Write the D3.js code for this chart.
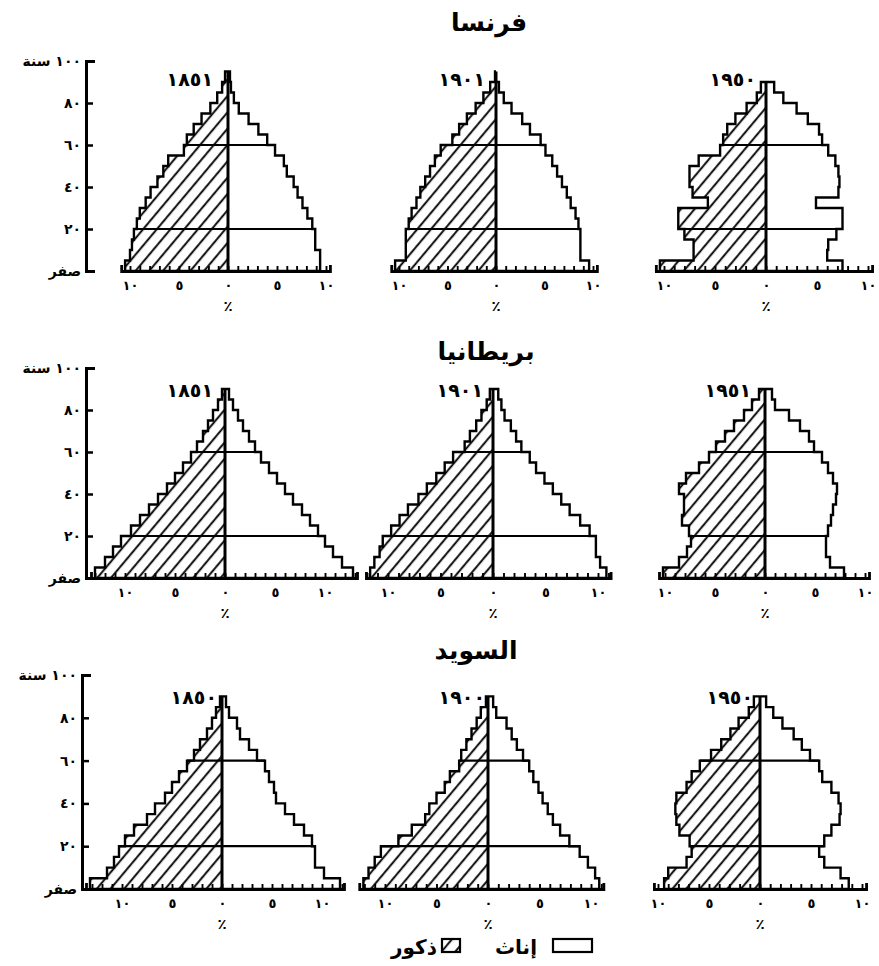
<!DOCTYPE html>
<html>
<head>
<meta charset="utf-8">
<script src="https://cdn.jsdelivr.net/npm/d3@7"></script>
<style>
  body { margin: 0; background: #fff; }
  svg { display: block; }
  text { font-family: "DejaVu Sans", sans-serif; fill: #000; }
</style>
</head>
<body>
<script>
// age groups (start of each 5-year band)
var ageStarts = [0, 5, 10, 15, 20, 25, 30, 35, 40, 45, 50, 55, 60, 65, 70, 75, 80, 85, 90]

var countries = ['فرنسا', 'بريطانيا', 'السويد']
var years = [[1851, 1901, 1950], [1851, 1901, 1951], [1850, 1900, 1950]]

var xTickLabels = [-10, -5, 0, 5, 10]
var yTickValues = [0, 20, 40, 60, 80, 100]
var yTickLabels = ['صفر', '٢٠', '٤٠', '٦٠', '٨٠', '١٠٠ سنة']
var refAges = [20, 60]

// percent of population in each band
var franceMale1851 = [10.5, 10.0, 9.8, 9.6, 9.3, 9.0, 8.4, 7.9, 7.2, 6.6, 6.1, 4.5, 4.2, 3.5, 2.7, 1.8, 1.1, 0.6, 0.3]
var franceFemale1851 = [9.4, 9.4, 8.9, 8.9, 8.6, 8.1, 7.6, 7.1, 6.7, 6.0, 5.7, 4.8, 4.0, 3.1, 2.1, 1.1, 0.6, 0.3, 0.2]
var franceMale1901 = [10.4, 9.3, 9.3, 9.3, 9.0, 8.7, 8.2, 7.8, 7.3, 6.8, 6.3, 5.7, 4.5, 3.8, 3.0, 2.1, 1.3, 0.6, 0.1]
var franceFemale1901 = [9.6, 8.7, 8.7, 8.7, 8.5, 8.2, 7.7, 7.3, 6.8, 6.3, 5.8, 5.1, 4.6, 3.5, 2.7, 1.6, 0.8, 0.3, 0]
var franceMale1950 = [10.4, 7.1, 7.1, 8.0, 8.6, 8.6, 5.7, 7.2, 7.5, 7.5, 6.6, 4.5, 4.2, 3.8, 3.0, 1.9, 0.9, 0.5, 0]
var franceFemale1950 = [7.5, 6.0, 6.1, 6.9, 7.5, 7.5, 4.9, 7.1, 7.2, 7.1, 6.8, 6.1, 5.5, 5.2, 4.1, 3.0, 1.7, 0.8, 0]

var britainMale1851 = [13.0, 12.0, 11.2, 10.4, 9.4, 8.5, 7.6, 6.7, 5.8, 5.0, 4.2, 3.4, 2.8, 2.2, 1.7, 1.2, 0.7, 0.3, 0]
var britainFemale1851 = [12.8, 11.7, 10.8, 10.0, 9.3, 8.5, 7.7, 6.8, 6.0, 5.2, 4.4, 3.6, 3.0, 2.4, 1.8, 1.3, 0.8, 0.4, 0]
var britainMale1901 = [11.7, 11.3, 10.8, 10.5, 9.7, 8.9, 8.1, 7.1, 6.3, 5.4, 4.6, 3.8, 2.7, 2.2, 1.6, 1.1, 0.6, 0.3, 0]
var britainFemale1901 = [10.8, 10.2, 9.8, 9.8, 9.2, 8.3, 7.3, 6.5, 5.7, 4.9, 4.1, 3.5, 2.7, 2.2, 1.7, 1.1, 0.8, 0.5, 0]
var britainMale1951 = [10.2, 8.6, 7.8, 7.4, 7.6, 8.3, 8.1, 8.1, 8.6, 7.9, 6.6, 5.6, 4.9, 4.0, 3.1, 2.1, 1.3, 0.6, 0]
var britainFemale1951 = [7.9, 6.5, 6.1, 6.1, 6.3, 6.6, 6.8, 7.1, 7.2, 6.8, 6.3, 5.7, 4.9, 4.4, 3.5, 2.4, 1.0, 0.7, 0]

var swedenMale1850 = [13.2, 11.5, 10.8, 10.3, 9.7, 8.8, 7.5, 6.7, 5.7, 5.0, 4.3, 3.5, 2.8, 2.2, 1.5, 1.0, 0.6, 0.2, 0]
var swedenFemale1850 = [11.8, 10.2, 9.3, 9.3, 9.0, 8.2, 7.2, 6.3, 5.4, 5.2, 4.7, 4.3, 3.5, 2.7, 1.8, 1.5, 0.7, 0.4, 0]
var swedenMale1900 = [12.1, 11.6, 11.0, 10.4, 8.7, 7.4, 6.1, 5.7, 5.0, 4.2, 3.7, 2.8, 2.6, 2.1, 1.6, 1.1, 0.7, 0.2, 0]
var swedenFemale1900 = [10.8, 10.4, 9.7, 8.9, 7.9, 7.0, 6.3, 5.8, 5.3, 4.9, 4.4, 4.0, 3.4, 2.8, 2.3, 1.8, 0.8, 0.5, 0]
var swedenMale1950 = [9.4, 9.0, 7.2, 6.7, 6.9, 7.9, 8.2, 8.3, 8.2, 7.2, 6.7, 5.9, 4.8, 3.8, 2.9, 2.1, 1.1, 0.6, 0]
var swedenFemale1950 = [8.7, 7.9, 6.3, 5.8, 6.3, 7.0, 7.8, 7.9, 7.7, 7.0, 6.1, 5.8, 4.9, 4.1, 3.3, 2.2, 1.3, 0.6, 0]

var males = [
  [franceMale1851, franceMale1901, franceMale1950],
  [britainMale1851, britainMale1901, britainMale1951],
  [swedenMale1850, swedenMale1900, swedenMale1950]
]
var females = [
  [franceFemale1851, franceFemale1901, franceFemale1950],
  [britainFemale1851, britainFemale1901, britainFemale1951],
  [swedenFemale1850, swedenFemale1900, swedenFemale1950]
]

// layout of the page
var rowLayout = [
  { y0: 271, ky: 2.1, axisX: 86, titleX: 489, titleY: 31, yearY: 86 },
  { y0: 578, ky: 2.1, axisX: 86, titleX: 486, titleY: 360, yearY: 397 },
  { y0: 889, ky: 2.14, axisX: 82, titleX: 476, titleY: 659, yearY: 704 }
]
var panelCx = [[228, 496, 766], [225, 493, 765], [222, 488, 760]]
var panelKx = [[9.8, 9.7, 10.2], [10, 10.5, 10.0], [10, 10.3, 10.2]]
var yearDx = [[15, 11, 10], [12, 10, 14], [5, 3, 7]]

var digits = '٠١٢٣٤٥٦٧٨٩'
function ar(n) {
  return String(n).replace(/\d/g, function(d) { return digits[+d] })
}

var svg = d3.select('body').append('svg')
  .attr('width', 879)
  .attr('height', 966)

var defs = svg.append('defs')
var hatch = defs.append('pattern')
  .attr('id', 'hatch')
  .attr('patternUnits', 'userSpaceOnUse')
  .attr('width', 10.5)
  .attr('height', 10.5)
  .attr('patternTransform', 'rotate(40)')
hatch.append('rect').attr('width', 10.5).attr('height', 10.5).attr('fill', '#fff')
hatch.append('line')
  .attr('x1', 5).attr('y1', -1).attr('x2', 5).attr('y2', 11.5)
  .attr('stroke', '#000').attr('stroke-width', 1.9)

function sidePoints(vals, sign) {
  var last = vals.length - 1
  while (last > 0 && vals[last] <= 0) last--
  var p = [[0, 0]]
  for (var i = 0; i <= last; i++) {
    p.push([sign * vals[i], ageStarts[i]])
    p.push([sign * vals[i], ageStarts[i] + 5])
  }
  p.push([0, ageStarts[last] + 5])
  return p
}

function bandWidthAt(vals, age) {
  var i = ageStarts.indexOf(age)
  return Math.max(vals[i - 1], vals[i])
}

rowLayout.forEach(function(row, r) {

  var y = d3.scaleLinear()
    .domain([0, 100])
    .range([row.y0, row.y0 - 100 * row.ky])

  svg.append('text')
    .attr('x', row.titleX)
    .attr('y', row.titleY)
    .attr('text-anchor', 'middle')
    .style('font-size', '25px')
    .style('font-weight', 'bold')
    .text(countries[r])

  // age axis on the left
  var yAxis = svg.append('g')
    .attr('transform', 'translate(' + row.axisX + ',0)')
    .call(d3.axisLeft(y)
      .tickValues(yTickValues)
      .tickSizeInner(-7)
      .tickSizeOuter(-9)
      .tickPadding(5)
      .tickFormat(function(d, i) { return yTickLabels[i] }))
  yAxis.select('.domain').attr('stroke', '#000').attr('stroke-width', 3)
  yAxis.selectAll('.tick line').attr('stroke', '#000').attr('stroke-width', 2.5)
  yAxis.selectAll('.tick text')
    .attr('font-family', null)
    .style('font-size', '14px')
    .style('font-weight', 'bold')

  for (var c = 0; c < 3; c++) {
    var male = males[r][c]
    var female = females[r][c]
    var cx = panelCx[r][c]
    var kx = panelKx[r][c]

    var x = d3.scaleLinear()
      .domain([-10, 10])
      .range([cx - 10 * kx, cx + 10 * kx])

    var line = d3.line()
      .x(function(d) { return x(d[0]) })
      .y(function(d) { return y(d[1]) })

    var g = svg.append('g')

    g.append('path')
      .attr('d', line(sidePoints(female, 1)))
      .attr('fill', '#fff')
      .attr('stroke', '#000')
      .attr('stroke-width', 2.4)

    g.append('path')
      .attr('d', line(sidePoints(male, -1)))
      .attr('fill', 'url(#hatch)')
      .attr('stroke', '#000')
      .attr('stroke-width', 2.4)

    refAges.forEach(function(a) {
      g.append('line')
        .attr('x1', x(-bandWidthAt(male, a)))
        .attr('x2', x(bandWidthAt(female, a)))
        .attr('y1', y(a))
        .attr('y2', y(a))
        .attr('stroke', '#000')
        .attr('stroke-width', 2.2)
    })

    var top = 0
    ageStarts.forEach(function(a, i) {
      if (male[i] > 0 || female[i] > 0) top = a + 5
    })
    g.append('line')
      .attr('x1', x(0)).attr('x2', x(0))
      .attr('y1', y(0)).attr('y2', y(top))
      .attr('stroke', '#000')
      .attr('stroke-width', 3)

    // percent axis
    var extL = Math.max(10.4, d3.max(male) + 0.4)
    var extR = Math.max(10.4, d3.max(female) + 0.4)
    var xa = x.copy().domain([-extL, extR]).range([x(-extL), x(extR)])

    var tickAxis = g.append('g')
      .attr('transform', 'translate(0,' + row.y0 + ')')
      .call(d3.axisBottom(xa)
        .tickValues(d3.range(Math.ceil(-extL), Math.floor(extR) + 1))
        .tickSizeInner(-5)
        .tickSizeOuter(-6)
        .tickFormat(''))
    tickAxis.select('.domain').attr('stroke', '#000').attr('stroke-width', 2.8)
    tickAxis.selectAll('.tick line').attr('stroke', '#000').attr('stroke-width', 1.9)

    var labelAxis = g.append('g')
      .attr('transform', 'translate(0,' + row.y0 + ')')
      .call(d3.axisBottom(x)
        .tickValues(xTickLabels)
        .tickSize(0)
        .tickPadding(10)
        .tickFormat(function(d) { return ar(Math.abs(d)) }))
    labelAxis.select('.domain').remove()
    labelAxis.selectAll('.tick text')
      .attr('font-family', null)
      .style('font-size', '13px')
      .style('font-weight', 'bold')

    g.append('text')
      .attr('x', x(0))
      .attr('y', row.y0 + 40)
      .attr('text-anchor', 'middle')
      .style('font-size', '15px')
      .style('font-weight', 'bold')
      .text('٪')

    g.append('text')
      .attr('x', cx - yearDx[r][c])
      .attr('y', row.yearY)
      .attr('text-anchor', 'end')
      .style('font-size', '19px')
      .style('font-weight', 'bold')
      .text(ar(years[r][c]))
  }
})

// legend
var legend = svg.append('g').attr('id', 'legend')

legend.append('rect')
  .attr('x', 553).attr('y', 939)
  .attr('width', 39).attr('height', 13)
  .attr('fill', '#fff').attr('stroke', '#000').attr('stroke-width', 2.2)

legend.append('text')
  .attr('x', 537).attr('y', 954)
  .attr('text-anchor', 'end')
  .style('font-size', '20px')
  .style('font-weight', 'bold')
  .text('إناث')

legend.append('rect')
  .attr('x', 442).attr('y', 939)
  .attr('width', 18).attr('height', 13)
  .attr('fill', 'url(#hatch)').attr('stroke', '#000').attr('stroke-width', 2.2)

legend.append('text')
  .attr('x', 437).attr('y', 954)
  .attr('text-anchor', 'end')
  .style('font-size', '20px')
  .style('font-weight', 'bold')
  .text('ذكور')
</script>
</body>
</html>
